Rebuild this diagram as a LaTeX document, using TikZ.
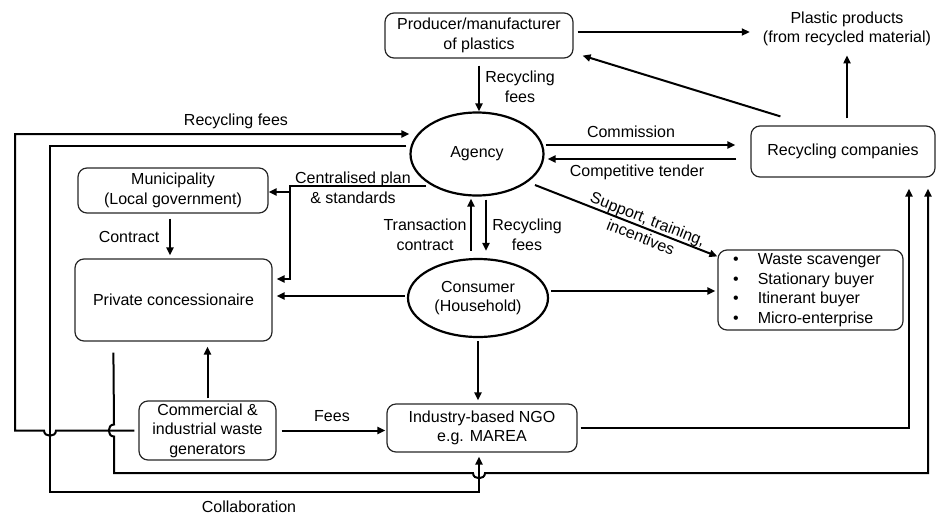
\documentclass[tikz,border=0pt]{standalone}
\usepackage{fontspec}
\setmainfont{Liberation Sans}
\usetikzlibrary{arrows.meta,shapes.geometric,calc}
\begin{document}
\begin{tikzpicture}[x=1pt,y=-1pt,
  font=\fontsize{16}{19.5}\selectfont,
  box/.style={draw=black!85, line width=1.2pt, rounded corners=9pt, align=center, inner sep=0pt},
  oval/.style={draw, ellipse, line width=2.2pt, inner sep=0pt, align=center},
  conn/.style={line width=2pt, -{Triangle[length=8pt,width=7pt]}},
  lbl/.style={align=center, inner sep=0pt}
]
\useasboundingbox (0,0) rectangle (939,517);

% nodes
\node[box, minimum width=188pt, minimum height=45pt] (prod) at (479,35.5) {Producer/manufacturer\\of plastics};
\node[lbl] (plast) at (847,29) {Plastic products\\(from recycled material)};
\node[box, minimum width=184pt, minimum height=51pt] (rec) at (843,151.5) {Recycling companies};
\node[oval, minimum width=133pt, minimum height=83pt] (agency) at (477,154) {Agency};
\node[oval, minimum width=140pt, minimum height=78pt] (cons) at (478,298) {Consumer\\(Household)};
\node[box, minimum width=190pt, minimum height=45pt] (mun) at (173,190.5) {Municipality\\(Local government)};
\node[box, minimum width=197pt, minimum height=82pt] (conc) at (173.5,300) {Private concessionaire};
\node[box, minimum width=137pt, minimum height=59pt] (comm) at (207.5,430.5) {Commercial \&\\industrial waste\\generators};
\node[box, minimum width=190pt, minimum height=48pt] (ngo) at (482,428) {Industry-based NGO\\e.g. MAREA};
\node[box, minimum width=185pt, minimum height=80pt] (scav) at (810.5,290) {\begin{tabular}{@{}l@{\hspace{19pt}}l@{}}\textbullet&Waste scavenger\\ \textbullet&Stationary buyer\\ \textbullet&Itinerant buyer\\ \textbullet&Micro-enterprise\end{tabular}\hspace*{7pt}};

% helper coordinates
\coordinate (xa) at (909,428);
\coordinate (xb) at (928,473);
\coordinate (xc) at (290,186);

% connectors
\draw[conn, shorten <=4pt, shorten >=13pt] (prod.east |- 0,32) -- (plast.west |- 0,32);
\draw[conn] ($(rec.north west)+(30,-9)$) -- ($(prod.south east)+(9,-3)$);
\draw[conn, shorten <=7pt, shorten >=9pt] (rec.north -| plast.south) -- (plast.south);
\draw[conn, shorten <=7pt] (prod.south) -- (prod.south |- agency.north);
\node[lbl] at (520,87) {Recycling\\fees};

\draw[conn, shorten <=1pt, shorten >=15pt] (agency.east |- 0,145) -- (rec.west |- 0,145);
\draw[conn, shorten <=14pt, shorten >=3pt] (rec.west |- 0,159) -- (agency.east |- 0,159);
\node[lbl] at (631,132) {Commission};
\node[lbl] at (637,172) {Competitive tender};

\draw[conn] ($(agency.center)+(58,31)$) -- node[lbl, sloped, pos=0.6] {Support, training,\\incentives} ($(scav.north west)+(0,7)$);

\draw[conn, shorten >=4pt] ($(agency.center)+(-51,32)$) -- (xc) -- (xc |- 0,279) -- (conc.east |- 0,279);
\draw[conn] (xc |- 0,192) -- (mun.east |- 0,192);
\node[lbl] at (353,188) {Centralised plan\\\& standards};

\draw[conn] ($(cons.north)+(-7,-7)$) -- ($(agency.south)+(-6,2)$);
\draw[conn] ($(agency.south)+(9,3)$) -- ($(cons.north)+(8,-7)$);
\node[lbl] at (425,235) {Transaction\\contract};
\node[lbl] at (527,235) {Recycling\\fees};

\draw[conn, shorten <=2pt, shorten >=4pt] (cons.west |- 0,296) -- (conc.east |- 0,296);
\draw[conn, shorten <=2pt, shorten >=2pt] (cons.east |- 0,291) -- (scav.west |- 0,291);
\draw[conn, shorten <=3pt, shorten >=3pt] (cons.south) -- (cons.south |- ngo.north);

\draw[conn, shorten <=5pt, shorten >=3pt] ([xshift=-3pt]mun.south) -- ([xshift=-3pt]mun.south |- conc.north);
\node[lbl] at (129,237) {Contract};
\draw[conn, shorten <=2pt, shorten >=5pt] (comm.north) -- (comm.north |- conc.south);
\draw[conn, shorten <=5pt, shorten >=1pt] (comm.east) -- (comm.east -| ngo.west);
\node[lbl] at (332,416) {Fees};

% long loops
\draw[conn, shorten <=3pt, shorten >=11pt] (ngo.east) -- (ngo.east -| xa) -- (xa |- rec.south);
\draw[conn, shorten >=11pt] ($(conc.south west)+(39,11)$) -- (114,424.5) .. controls (107,424.5) and (107,436.5) .. (114,436.5) -- (114,473) -- (473,473) .. controls (473,480) and (485,480) .. (485,473) -- (xb) -- (xb |- rec.south);
\draw[conn, shorten <=4pt] (comm.west) -- (56,430.5) .. controls (56,437.5) and (44,437.5) .. (44,430.5) -- (15,430.5) -- (15,134) -- (agency.west |- 0,134);
\node[lbl] at (236,121) {Recycling fees};
\draw[conn, shorten <=3pt, shorten >=4pt] (agency.west |- 0,146) -- (50,146) -- (50,492) -- (479,492) -- (479,0 |- ngo.south);
\node[lbl] at (249,507) {Collaboration};
\end{tikzpicture}
\end{document}
